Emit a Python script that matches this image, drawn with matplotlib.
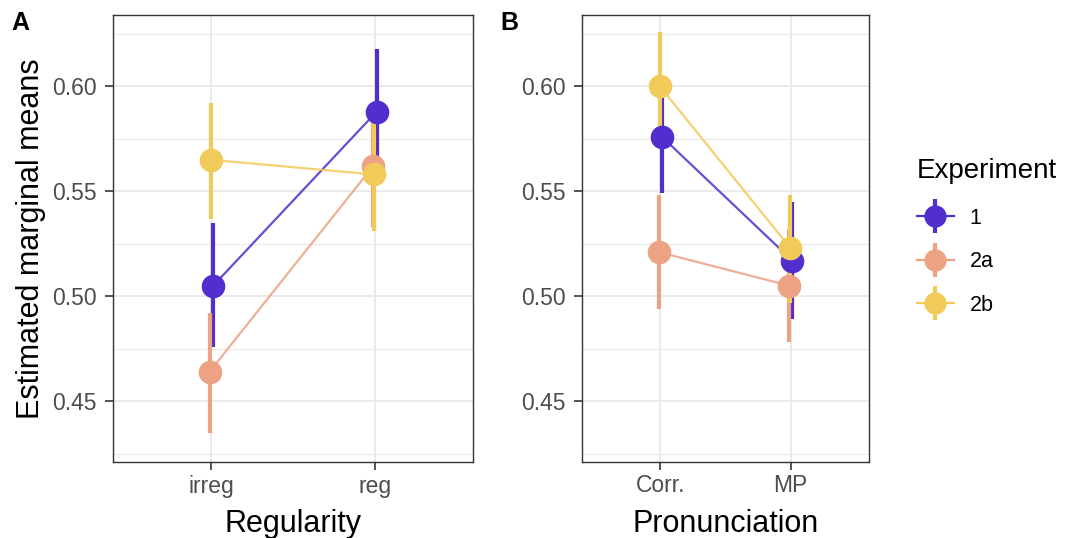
import numpy as np
import matplotlib.pyplot as plt
from matplotlib.lines import Line2D
from matplotlib.legend_handler import HandlerTuple

plt.rcParams['font.family'] = ['Liberation Sans', 'DejaVu Sans']

# data
experiments = ['1', '2a', '2b']
colors = ['#512ecd', '#eca283', '#f1cb5a']

reg_levels = ['irreg', 'reg']
reg_mean = {'1': [0.505, 0.588], '2a': [0.464, 0.562], '2b': [0.565, 0.558]}
reg_lo = {'1': [0.476, 0.558], '2a': [0.435, 0.533], '2b': [0.537, 0.531]}
reg_hi = {'1': [0.535, 0.618], '2a': [0.492, 0.591], '2b': [0.592, 0.586]}

pron_levels = ['Corr.', 'MP']
pron_mean = {'1': [0.576, 0.517], '2a': [0.521, 0.505], '2b': [0.600, 0.523]}
pron_lo = {'1': [0.549, 0.489], '2a': [0.494, 0.478], '2b': [0.575, 0.497]}
pron_hi = {'1': [0.604, 0.545], '2a': [0.548, 0.532], '2b': [0.626, 0.548]}

dodge = {'1': 0.012, '2a': -0.01, '2b': -0.003}


def panel(ax, levels, mean, lo, hi, xlabel, ylabel=None):
    x = np.arange(1, len(levels) + 1)
    for exp, col in zip(experiments, colors):
        xs = x + dodge[exp]
        m = np.array(mean[exp])
        ax.plot(xs, m, color=col, lw=1.6, alpha=0.85, zorder=3)
        ax.errorbar(xs, m, yerr=[m - np.array(lo[exp]), np.array(hi[exp]) - m],
                    fmt='o', color=col, ms=16, elinewidth=3, capsize=0, zorder=4)
    ax.set_xlim(0.4, len(levels) + 0.6)
    ax.set_ylim(0.421, 0.634)
    ax.set_xticks(x)
    ax.set_xticklabels(levels)
    ax.set_yticks([0.45, 0.50, 0.55, 0.60])
    ax.set_yticklabels(['0.45', '0.50', '0.55', '0.60'])
    ax.set_yticks([0.425, 0.475, 0.525, 0.575, 0.625], minor=True)
    ax.grid(True, which='major', color='#ebebeb', lw=1.4, zorder=0)
    ax.grid(True, which='minor', axis='y', color='#ebebeb', lw=0.8, zorder=0)
    ax.set_axisbelow(True)
    ax.tick_params(which='major', labelsize=16.5, labelcolor='#4d4d4d', color='#333333',
                   length=5.5, width=1.2, pad=3.5)
    ax.tick_params(axis='y', which='major', pad=6.5)
    ax.tick_params(which='minor', length=0)
    for s in ax.spines.values():
        s.set_color('#333333')
        s.set_linewidth(1)
    ax.set_xlabel(xlabel, fontsize=22, labelpad=8)
    if ylabel:
        ax.set_ylabel(ylabel, fontsize=22, labelpad=4)


fig = plt.figure(figsize=(10.75, 5.38), dpi=100)
axA = fig.add_axes([113 / 1075, 76 / 538, 360 / 1075, 447 / 538])
axB = fig.add_axes([582 / 1075, 76 / 538, 287 / 1075, 447 / 538])

panel(axA, reg_levels, reg_mean, reg_lo, reg_hi, 'Regularity', 'Estimated marginal means')
panel(axB, pron_levels, pron_mean, pron_lo, pron_hi, 'Pronunciation')

fig.text(11 / 1075, 1 - 23 / 538, 'A', fontsize=18, fontweight='bold', va='center')
fig.text(500 / 1075, 1 - 23 / 538, 'B', fontsize=18, fontweight='bold', va='center')

handles = []
for col in colors:
    h_line = Line2D([], [], color=col, lw=1.6, marker='o', ms=15)
    h_bar = Line2D([], [], color=col, ls='', marker='|', ms=25, mew=3)
    handles.append((h_line, h_bar))

leg = fig.legend(handles, experiments, title='Experiment', loc='upper left',
                 bbox_to_anchor=(917 / 1075, 1 - 158 / 538), frameon=False,
                 borderpad=0, borderaxespad=0,
                 fontsize=15.5, title_fontsize=20, handlelength=1.7,
                 labelspacing=1.05, handletextpad=0.75,
                 handler_map={tuple: HandlerTuple(ndivide=1)})
leg._legend_box.align = 'left'
leg._legend_box.sep = 17

fig.savefig('out.png', dpi=100)
